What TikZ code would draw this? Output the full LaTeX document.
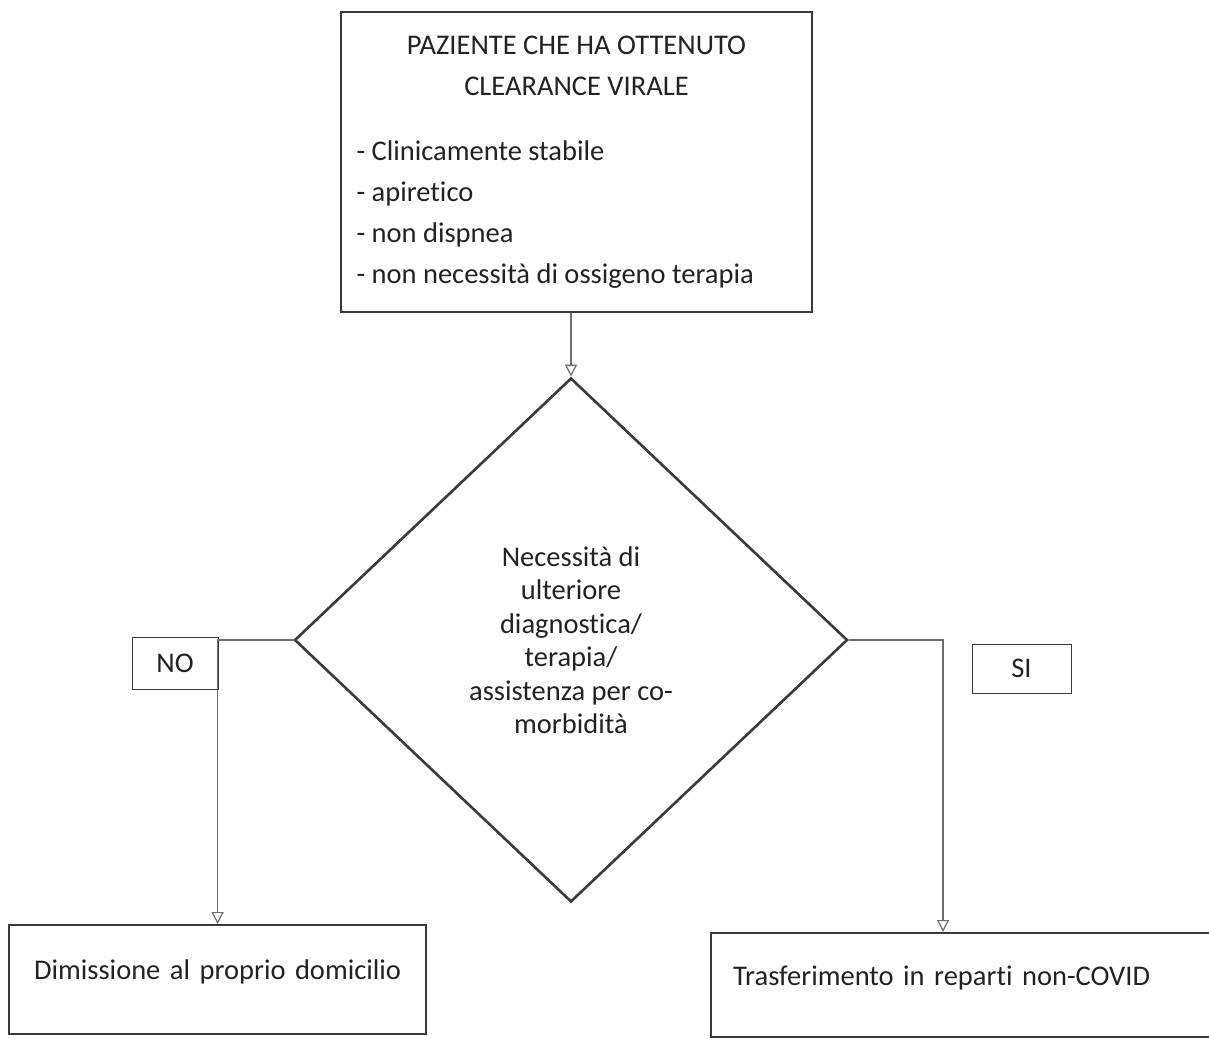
\documentclass[tikz,border=0pt]{standalone}
\usepackage{fontspec}
\setmainfont{Carlito}[Ligatures=NoCommon]
\usetikzlibrary{shapes.geometric,arrows.meta,calc}
\definecolor{boxline}{HTML}{3A3A3A}
\definecolor{connline}{HTML}{6E6E6E}
\definecolor{txt}{HTML}{222222}
\begin{document}
\begin{tikzpicture}[x=1pt,y=-1pt,
  mainbox/.style={draw=boxline, line width=2.6pt, rectangle, inner sep=0pt},
  outbox/.style={draw=boxline, line width=2.2pt, rectangle, align=left,
    font=\fontsize{28.5}{34}\selectfont, text=txt},
  decision/.style={diamond, draw=boxline, line width=2.6pt, inner sep=0pt,
    align=center, font=\fontsize{28.5}{33.5}\selectfont, text=txt},
  answer/.style={draw=boxline, line width=0.9pt, rectangle, inner sep=0pt,
    font=\fontsize{28.5}{34}\selectfont, text=txt},
  conn/.style={draw=connline, line width=1.2pt,
    -{Triangle[open, length=12pt, width=12pt, line width=1.2pt]}}
]
\useasboundingbox[fill=white] (0,0) rectangle (1209,1038);

% top box
\node[mainbox, minimum width=471pt, minimum height=300pt, text=txt] (top) at (576.5,162)
 {\begin{minipage}{440pt}\fontsize{28.5}{41}\selectfont\centering
  PAZIENTE CHE HA OTTENUTO\\CLEARANCE VIRALE\par\vspace{24pt}\raggedright
  - Clinicamente stabile\\
  - apiretico\\
  - non dispnea\\
  - non necessità di ossigeno terapia\end{minipage}};

% decision diamond
\node[decision, minimum width=553pt, minimum height=524pt] (dia) at (571,640)
 {Necessità di\\ulteriore\\diagnostica/\\terapia/\\assistenza per co-\\morbidità};

% outcome boxes
\node[outbox, anchor=north west, minimum width=417pt, text width=367pt,
  inner xsep=25pt, inner ysep=34.5pt, text height=20pt, text depth=20pt] (lbox) at (8,924)
 {\mbox{Dimissione al proprio domicilio}};
\node[outbox, anchor=north west, minimum width=520pt, text width=476pt,
  inner xsep=22pt, inner ysep=32pt, text height=20pt, text depth=20pt] (rbox) at (710,932)
 {\mbox{Trasferimento in reparti non-COVID}};

% answer labels
\node[answer, minimum width=86pt, minimum height=52pt] (no) at (175,663) {NO};
\node[answer, minimum width=99pt, minimum height=49pt] (si) at (1021.5,668.5) {SI};

% connectors
\draw[conn] (dia.north |- top.south) -- (dia.north);
\draw[conn] (dia.west) -| (lbox.north);
\draw[conn] (dia.east) -| ($(rbox.north west)+(233,0)$);
\end{tikzpicture}
\end{document}
